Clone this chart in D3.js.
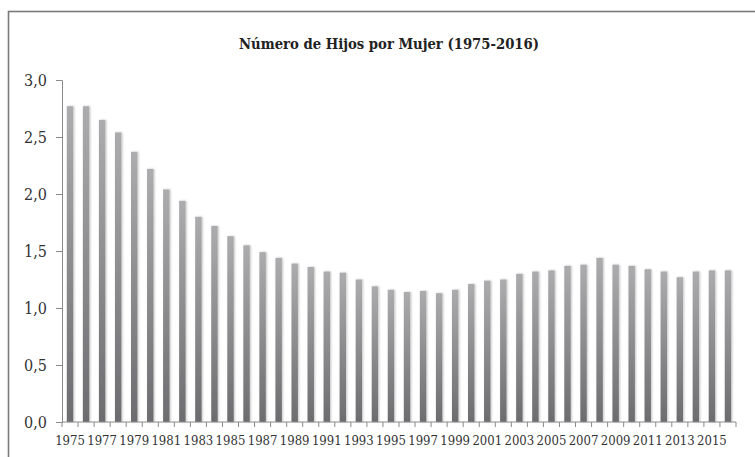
<!DOCTYPE html>
<html>
<head>
<meta charset="utf-8">
<script src="https://cdn.jsdelivr.net/npm/d3@7"></script>
<style>
  html, body { margin: 0; padding: 0; background: #fff; }
  svg { display: block; }
  svg text { font-family: 'DejaVu Serif Condensed', 'DejaVu Serif', serif; }
</style>
</head>
<body>
<svg id="chart"></svg>
<script>
const years = d3.range(1975, 2017);
const hijos = [
  2.77, 2.77, 2.65, 2.54, 2.37, 2.22, 2.04, 1.94, 1.80, 1.72,
  1.63, 1.55, 1.49, 1.44, 1.39, 1.36, 1.32, 1.31, 1.25, 1.19,
  1.16, 1.14, 1.15, 1.13, 1.16, 1.21, 1.24, 1.25, 1.30, 1.32,
  1.33, 1.37, 1.38, 1.44, 1.38, 1.37, 1.34, 1.32, 1.27, 1.32,
  1.33, 1.33
];
const yTicks = [0, 0.5, 1, 1.5, 2, 2.5, 3];
const title = 'Número de Hijos por Mujer (1975-2016)';

const width = 755;
const height = 457;
const margin = { top: 80, right: 19, bottom: 35, left: 62 };

const svg = d3.select('#chart')
  .attr('width', width)
  .attr('height', height);

const defs = svg.append('defs');
const grad = defs.append('linearGradient')
  .attr('id', 'barGrad')
  .attr('x1', 0).attr('y1', 0).attr('x2', 0).attr('y2', 1);
grad.append('stop').attr('offset', '0%').attr('stop-color', '#acacaf');
grad.append('stop').attr('offset', '100%').attr('stop-color', '#6c6c70');

const shadow = defs.append('filter').attr('id', 'soft')
  .attr('x', '-50%').attr('y', '-5%').attr('width', '200%').attr('height', '110%');
shadow.append('feGaussianBlur').attr('in', 'SourceAlpha').attr('stdDeviation', 1.2).attr('result', 'b');
shadow.append('feOffset').attr('dx', 1).attr('dy', 0).attr('result', 'o');
shadow.append('feComponentTransfer').append('feFuncA').attr('type', 'linear').attr('slope', 0.25);
const merge = shadow.append('feMerge');
merge.append('feMergeNode');
merge.append('feMergeNode').attr('in', 'SourceGraphic');

// frame (only top and left edges visible)
svg.append('rect')
  .attr('x', 8.5).attr('y', 11.5)
  .attr('width', 800).attr('height', 500)
  .attr('fill', 'none')
  .attr('stroke', '#7a7a7a')
  .attr('stroke-width', 1.6);

svg.append('text')
  .attr('x', 389)
  .attr('y', 49)
  .attr('text-anchor', 'middle')
  .attr('font-weight', 'bold')
  .attr('font-size', 14.7)
  .attr('fill', '#222')
  .text(title);

const x = d3.scaleBand()
  .domain(years)
  .range([margin.left, width - margin.right])
  .paddingInner(0.6)
  .paddingOuter(0.3);

const y = d3.scaleLinear()
  .domain([0, 3])
  .range([height - margin.bottom, margin.top]);

svg.append('g')
  .selectAll('rect')
  .data(hijos)
  .enter()
  .append('rect')
  .attr('x', (d, i) => x(years[i]))
  .attr('y', (d) => y(d))
  .attr('width', x.bandwidth())
  .attr('height', (d) => y(0) - y(d))
  .attr('fill', 'url(#barGrad)')
  .attr('filter', 'url(#soft)');

// y axis
const yAxis = svg.append('g')
  .attr('transform', 'translate(' + margin.left + ',0)')
  .call(d3.axisLeft(y)
    .tickValues(yTicks)
    .tickSizeOuter(0)
    .tickSize(6)
    .tickPadding(9)
    .tickFormat((d) => d3.format('.1f')(d).replace('.', ',')));
yAxis.attr('font-family', null);
yAxis.select('.domain').attr('stroke', '#8a8a8a');
yAxis.selectAll('.tick line').attr('stroke', '#8a8a8a');
yAxis.selectAll('text')
  .attr('font-size', 16)
  .attr('fill', '#333');

// x axis: ticks at category boundaries, labels every other year
const xAxisG = svg.append('g')
  .attr('transform', 'translate(0,' + y(0) + ')');
xAxisG.append('line')
  .attr('x1', margin.left).attr('x2', width - margin.right)
  .attr('stroke', '#8a8a8a');
const step = x.step();
const boundaries = years.map((yr) => x(yr) + x.bandwidth() / 2 - step / 2);
boundaries.push(x(years[years.length - 1]) + x.bandwidth() / 2 + step / 2);
xAxisG.selectAll('line.tk')
  .data(boundaries)
  .enter()
  .append('line')
  .attr('class', 'tk')
  .attr('x1', (d) => d).attr('x2', (d) => d)
  .attr('y1', 0).attr('y2', 5)
  .attr('stroke', '#8a8a8a');
xAxisG.selectAll('text')
  .data(years.filter((yr) => (yr - 1975) % 2 === 0))
  .enter()
  .append('text')
  .attr('x', (d) => x(d) + x.bandwidth() / 2)
  .attr('y', 23)
  .attr('text-anchor', 'middle')
  .attr('font-size', 13)
  .attr('fill', '#333')
  .text((d) => d);
</script>
</body>
</html>
